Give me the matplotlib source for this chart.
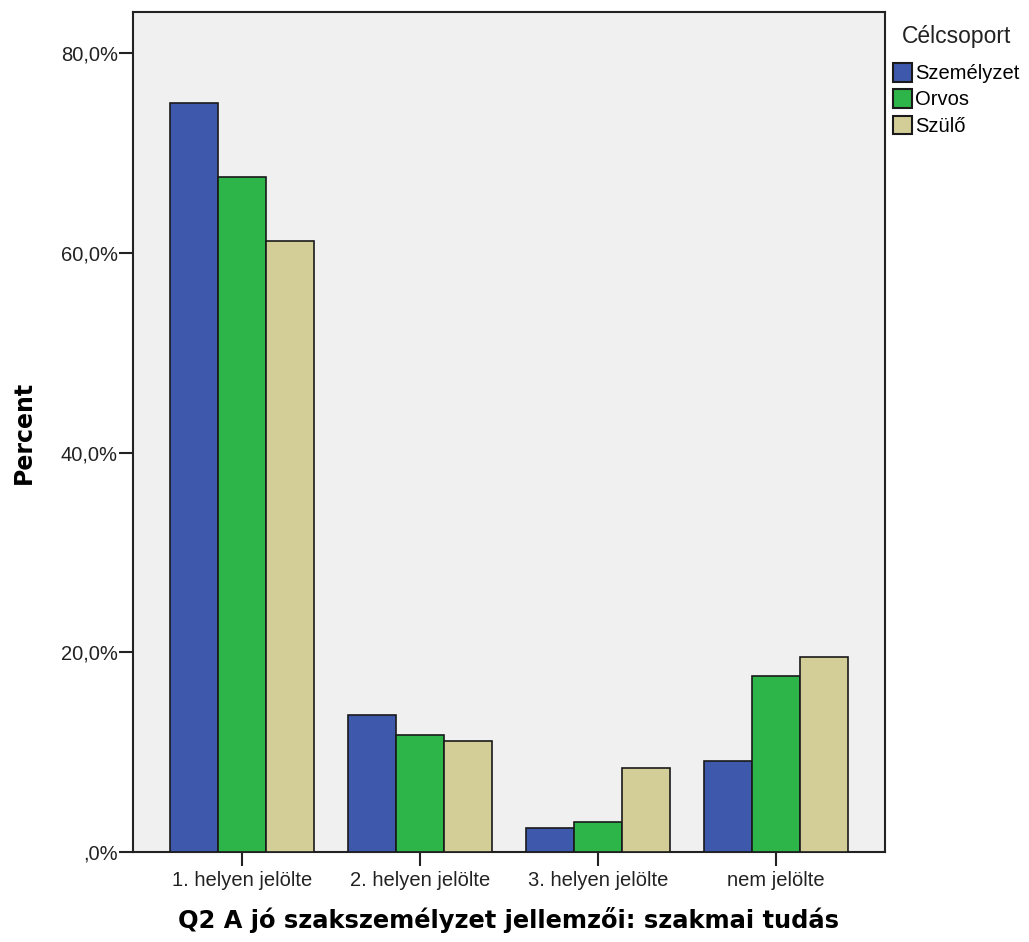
import matplotlib
matplotlib.use("Agg")
import matplotlib.pyplot as plt
import numpy as np
from matplotlib.patches import Patch
from matplotlib.ticker import FuncFormatter

categories = ["1. helyen jelölte", "2. helyen jelölte", "3. helyen jelölte", "nem jelölte"]
series_names = ["Személyzet", "Orvos", "Szülő"]
szemelyzet = [75.0, 13.7, 2.4, 9.1]
orvos = [67.6, 11.7, 3.0, 17.6]
szulo = [61.2, 11.1, 8.4, 19.5]
colors = ["#3E58AC", "#2DB54A", "#D3CE97"]

plt.rcParams['font.family'] = ['Liberation Sans', 'DejaVu Sans']

fig = plt.figure(figsize=(10.29, 9.42), dpi=100)
ax = fig.add_axes([0.1293, 0.0955, 0.7307, 0.8917])
ax.set_facecolor("#F0F0F0")

x = np.arange(len(categories))
w = 0.27
for i, (vals, c) in enumerate(zip([szemelyzet, orvos, szulo], colors)):
    ax.bar(x + (i - 1) * w, vals, width=w, color=c, edgecolor="#1a1a1a", linewidth=1.2, zorder=3)

ax.set_xlim(-0.61, 3.61)
ax.set_ylim(0, 84.1)
ax.set_yticks([0, 20, 40, 60, 80])
ax.yaxis.set_major_formatter(FuncFormatter(lambda v, p: ",0%" if v == 0 else f"{v:.1f}%".replace(".", ",")))
ax.set_xticks(x)
ax.set_xticklabels(categories, fontsize=14.5)
ax.tick_params(axis='y', labelsize=14.5, length=10, width=1.5, pad=1, colors="#222222")
ax.tick_params(axis='x', length=10, width=1.5, pad=4, colors="#222222")
for s in ax.spines.values():
    s.set_linewidth(1.5)
    s.set_color("#222222")

ax.set_ylabel("Percent", fontsize=17, fontweight='bold', labelpad=18, family=['DejaVu Sans'])
ax.set_xlabel("Q2 A jó szakszemélyzet jellemzői: szakmai tudás", fontsize=17.4, fontweight='bold',
              labelpad=12, family=['DejaVu Sans'])

fig.text(902 / 1029, 1 - 37 / 942, "Célcsoport", fontsize=16.5, ha='left', va='center', color="#222222")
handles = [Patch(facecolor=c, edgecolor="#1a1a1a", linewidth=1.5) for c in colors]
leg = fig.legend(handles, series_names, loc="upper left",
                 bbox_to_anchor=(893 / 1029, 1 - 63 / 942), frameon=False, fontsize=14.5,
                 handlelength=0.95, handleheight=1.05,
                 handletextpad=0.15, labelspacing=0.3, borderaxespad=0, borderpad=0)

fig.savefig("out.png", dpi=100)
